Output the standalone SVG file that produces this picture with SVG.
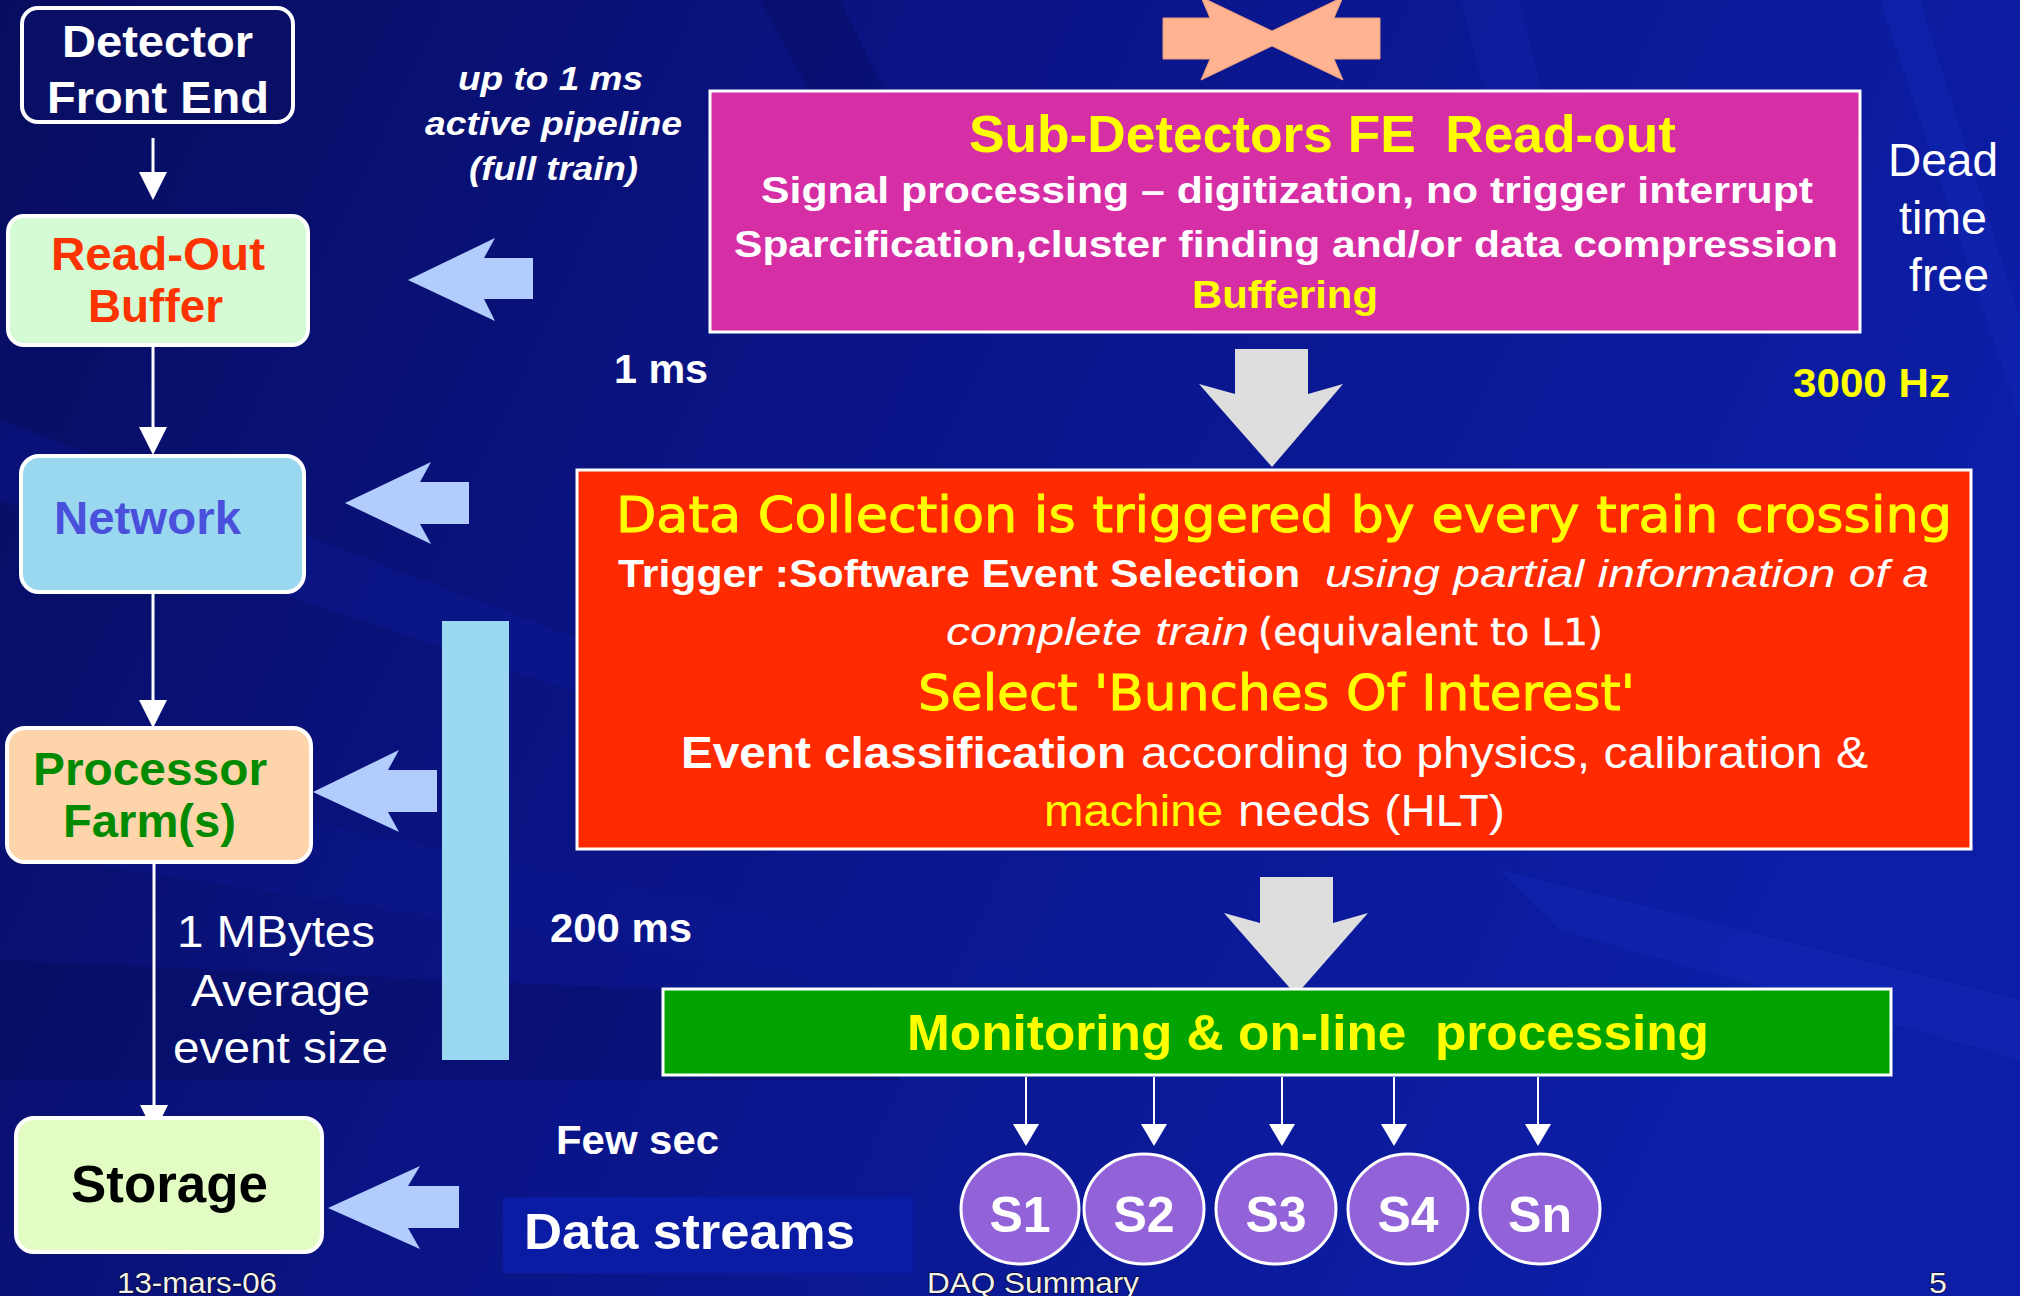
<svg xmlns="http://www.w3.org/2000/svg" width="2020" height="1296" viewBox="0 0 2020 1296">
  <defs>
    <linearGradient id="bg" x1="0" y1="0" x2="1" y2="0.3">
      <stop offset="0" stop-color="#070d5e"/>
      <stop offset="0.45" stop-color="#0a1486"/>
      <stop offset="1" stop-color="#0c1ea6"/>
    </linearGradient>
    <marker id="head" markerUnits="userSpaceOnUse" viewBox="0 0 28 28" markerWidth="28" markerHeight="28" refX="23" refY="14" orient="auto">
      <path d="M0,0 L28,14 L0,28 z" fill="#ffffff"/>
    </marker>
    <marker id="headS" markerUnits="userSpaceOnUse" viewBox="0 0 22 26" markerWidth="22" markerHeight="26" refX="18" refY="13" orient="auto">
      <path d="M0,0 L22,13 L0,26 z" fill="#ffffff"/>
    </marker>
  </defs>
  <style>
    .sans { font-family: "Liberation Sans", Arial, sans-serif; }
    .b { font-weight: bold; }
    .i { font-style: italic; }
    .comic { font-family: "DejaVu Sans", sans-serif; stroke-width: 0.9; }
    .w { fill: #ffffff; }
    .y { fill: #ffff00; }
    .comic.y { stroke: #ffff00; }
    .comic.w { stroke: #ffffff; stroke-width: 0.5; }
    .node { stroke: #ffffff; stroke-width: 4; }
    .panel { stroke: #ffffff; stroke-width: 3; }
    .link { stroke: #ffffff; stroke-width: 3; fill: none; marker-end: url(#head); }
    .linkS { stroke: #ffffff; stroke-width: 2; fill: none; marker-end: url(#headS); }
    .push { fill: #b2cdfd; }
    .flow { fill: #dedede; }
    .foot { font-family: "Liberation Sans", Arial, sans-serif; font-size: 29px; fill: #f2f2f2; stroke: #000000; stroke-width: 1.2; paint-order: stroke; }
  </style>

  <!-- background with diagonal streaks -->
  <rect x="0" y="0" width="2020" height="1296" fill="url(#bg)"/>
  <g opacity="0.3">
    <polygon points="0,420 900,760 900,800 0,500" fill="#0d1ca0"/>
    <polygon points="0,760 1100,980 1100,1020 0,850" fill="#0c1a96"/>
    <polygon points="0,960 900,1000 900,1080 0,1080" fill="#040a50"/>
    <polygon points="760,0 840,0 1000,330 940,330" fill="#040a50"/>
    <polygon points="1460,0 1520,0 1600,330 1550,330" fill="#1428b0"/>
    <polygon points="1880,0 1920,0 2020,320 2020,420" fill="#1830c0"/>
    <polygon points="1500,870 2020,1000 2020,1060 1560,930" fill="#1a30c0"/>
  </g>

  <!-- colliding bunches symbol -->
  <polygon points="1163,18 1210,18 1201,-3 1272,31 1343,-3 1334,18 1380,18 1380,59 1334,59 1343,80 1272,46 1201,80 1210,59 1163,59" fill="#ffb391" stroke="#e89c80" stroke-width="1"/>

  <!-- connectors -->
  <g id="connectors">
    <line class="link" x1="153" y1="138" x2="153" y2="195"/>
    <line class="link" x1="153" y1="345" x2="153" y2="450"/>
    <line class="link" x1="153" y1="592" x2="153" y2="723"/>
    <line class="link" x1="154" y1="862" x2="154" y2="1128"/>
    <line class="linkS" x1="1026" y1="1077" x2="1026" y2="1142"/>
    <line class="linkS" x1="1154" y1="1077" x2="1154" y2="1142"/>
    <line class="linkS" x1="1282" y1="1077" x2="1282" y2="1142"/>
    <line class="linkS" x1="1394" y1="1077" x2="1394" y2="1142"/>
    <line class="linkS" x1="1538" y1="1077" x2="1538" y2="1142"/>
  </g>

  <!-- left chain -->
  <g id="detector-front-end">
    <rect class="node" x="22" y="8" width="271" height="114" rx="16" fill="#0a0f66"/>
    <text class="sans b w" font-size="44" x="62" y="57" textLength="191" lengthAdjust="spacingAndGlyphs">Detector</text>
    <text class="sans b w" font-size="44" x="47" y="113" textLength="222" lengthAdjust="spacingAndGlyphs">Front End</text>
  </g>
  <g id="read-out-buffer">
    <rect class="node" x="8" y="216" width="300" height="129" rx="16" fill="#d5fbd5"/>
    <text class="sans b" fill="#ff3300" font-size="46" x="51" y="270" textLength="214" lengthAdjust="spacingAndGlyphs">Read-Out</text>
    <text class="sans b" fill="#ff3300" font-size="46" x="88" y="322" textLength="135" lengthAdjust="spacingAndGlyphs">Buffer</text>
  </g>
  <g id="network">
    <rect class="node" x="21" y="456" width="283" height="136" rx="18" fill="#9ad8f0"/>
    <text class="sans b" fill="#4a50dc" font-size="47" x="54" y="534" textLength="187" lengthAdjust="spacingAndGlyphs">Network</text>
  </g>
  <g id="processor-farm">
    <rect class="node" x="7" y="728" width="304" height="134" rx="18" fill="#fed5aa"/>
    <text class="sans b" fill="#008a00" font-size="46" x="33" y="785" textLength="234" lengthAdjust="spacingAndGlyphs">Processor</text>
    <text class="sans b" fill="#008a00" font-size="46" x="63" y="837" textLength="173" lengthAdjust="spacingAndGlyphs">Farm(s)</text>
  </g>
  <g id="storage">
    <rect class="node" x="16" y="1118" width="306" height="134" rx="18" fill="#e2fcc4"/>
    <text class="sans b" fill="#000000" font-size="51" x="71" y="1202" textLength="197" lengthAdjust="spacingAndGlyphs">Storage</text>
  </g>

  <!-- wide arrows pointing at the chain -->
  <g id="feeds">
    <polygon class="push" points="408,280 495,238 484,258 533,258 533,299 484,299 495,321"/>
    <polygon class="push" points="345,503 431,462 420,482 469,482 469,524 420,524 431,544"/>
    <polygon class="push" points="313,792 399,750 388,770 437,770 437,812 388,812 399,832"/>
    <polygon class="push" points="328,1208 420,1166 408,1186 459,1186 459,1228 408,1228 420,1249"/>
    <rect x="442" y="621" width="67" height="439" fill="#99d8f0"/>
  </g>

  <!-- timing and size labels -->
  <g id="labels">
    <text class="sans b i w" font-size="34" x="458" y="90" textLength="185" lengthAdjust="spacingAndGlyphs">up to 1 ms</text>
    <text class="sans b i w" font-size="34" x="425" y="135" textLength="257" lengthAdjust="spacingAndGlyphs">active pipeline</text>
    <text class="sans b i w" font-size="34" x="469" y="180" textLength="169" lengthAdjust="spacingAndGlyphs">(full train)</text>
    <text class="sans b w" font-size="40" x="614" y="383" textLength="94" lengthAdjust="spacingAndGlyphs">1 ms</text>
    <text class="sans b w" font-size="40" x="550" y="942" textLength="142" lengthAdjust="spacingAndGlyphs">200 ms</text>
    <text class="sans b w" font-size="40" x="556" y="1154" textLength="163" lengthAdjust="spacingAndGlyphs">Few sec</text>
    <text class="sans w" font-size="44" x="177" y="947" textLength="198" lengthAdjust="spacingAndGlyphs">1 MBytes</text>
    <text class="sans w" font-size="44" x="191" y="1006" textLength="179" lengthAdjust="spacingAndGlyphs">Average</text>
    <text class="sans w" font-size="44" x="173" y="1063" textLength="215" lengthAdjust="spacingAndGlyphs">event size</text>
    <text class="sans w" font-size="46" x="1888" y="176" textLength="110" lengthAdjust="spacingAndGlyphs">Dead</text>
    <text class="sans w" font-size="46" x="1899" y="234" textLength="88" lengthAdjust="spacingAndGlyphs">time</text>
    <text class="sans w" font-size="46" x="1909" y="291" textLength="80" lengthAdjust="spacingAndGlyphs">free</text>
    <text class="sans b y" font-size="40" x="1793" y="397" textLength="157" lengthAdjust="spacingAndGlyphs">3000 Hz</text>
  </g>

  <!-- front-end read-out stage -->
  <g id="sub-detectors-readout">
    <rect class="panel" x="710" y="91" width="1150" height="241" fill="#d62fa6"/>
    <text class="sans b y" font-size="52" x="969" y="152" textLength="707" lengthAdjust="spacingAndGlyphs" xml:space="preserve">Sub-Detectors FE  Read-out</text>
    <text class="sans b w" font-size="37" x="761" y="203" textLength="1052" lengthAdjust="spacingAndGlyphs">Signal processing – digitization, no trigger interrupt</text>
    <text class="sans b w" font-size="37" x="734" y="257" textLength="1104" lengthAdjust="spacingAndGlyphs">Sparcification,cluster finding and/or data compression</text>
    <text class="sans b y" font-size="39" x="1192" y="308" textLength="186" lengthAdjust="spacingAndGlyphs">Buffering</text>
  </g>

  <g id="flow-down">
    <polygon class="flow" points="1235,349 1308,349 1308,394 1343,384 1272,467 1199,384 1235,394"/>
  </g>

  <!-- data collection stage -->
  <g id="data-collection">
    <rect class="panel" x="577" y="470" width="1394" height="379" fill="#ff2a00"/>
    <text class="comic y" font-size="50" x="616" y="532" textLength="1336" lengthAdjust="spacingAndGlyphs">Data Collection is triggered by every train crossing</text>
    <text class="sans b w" font-size="39" x="618" y="587" textLength="682" lengthAdjust="spacingAndGlyphs">Trigger :Software Event Selection</text>
    <text class="sans i w" font-size="39" x="1325" y="587" textLength="604" lengthAdjust="spacingAndGlyphs">using partial information of a</text>
    <text class="sans i w" font-size="39" x="946" y="645" textLength="303" lengthAdjust="spacingAndGlyphs">complete train</text>
    <text class="comic w" font-size="37" x="1258" y="645" textLength="345" lengthAdjust="spacingAndGlyphs">(equivalent to L1)</text>
    <text class="comic y" font-size="50" x="918" y="710" textLength="717" lengthAdjust="spacingAndGlyphs">Select 'Bunches Of Interest'</text>
    <text class="sans b w" font-size="45" x="681" y="768" textLength="445" lengthAdjust="spacingAndGlyphs">Event classification</text>
    <text class="sans w" font-size="45" x="1141" y="768" textLength="727" lengthAdjust="spacingAndGlyphs">according to physics, calibration &amp;</text>
    <text class="sans y" font-size="45" x="1044" y="826" textLength="179" lengthAdjust="spacingAndGlyphs">machine</text>
    <text class="sans w" font-size="45" x="1238" y="826" textLength="267" lengthAdjust="spacingAndGlyphs">needs (HLT)</text>
  </g>

  <g id="flow-down-2">
    <polygon class="flow" fill="#d8d8d8" points="1260,877 1333,877 1333,923 1368,913 1296,995 1224,913 1260,923"/>
  </g>

  <!-- monitoring stage -->
  <g id="monitoring">
    <rect class="panel" x="663" y="989" width="1228" height="86" fill="#00a300"/>
    <text class="sans b y" font-size="50" x="907" y="1050" textLength="802" lengthAdjust="spacingAndGlyphs" xml:space="preserve">Monitoring &amp; on-line  processing</text>
  </g>

  <!-- output streams -->
  <g id="stream-s1">
    <ellipse class="panel" cx="1020" cy="1209" rx="59" ry="55" fill="#9262d8"/>
    <text class="sans b w" font-size="50" x="1020" y="1232" text-anchor="middle">S1</text>
  </g>
  <g id="stream-s2">
    <ellipse class="panel" cx="1144" cy="1209" rx="60" ry="55" fill="#9262d8"/>
    <text class="sans b w" font-size="50" x="1144" y="1232" text-anchor="middle">S2</text>
  </g>
  <g id="stream-s3">
    <ellipse class="panel" cx="1276" cy="1209" rx="60" ry="55" fill="#9262d8"/>
    <text class="sans b w" font-size="50" x="1276" y="1232" text-anchor="middle">S3</text>
  </g>
  <g id="stream-s4">
    <ellipse class="panel" cx="1408" cy="1209" rx="60" ry="55" fill="#9262d8"/>
    <text class="sans b w" font-size="50" x="1408" y="1232" text-anchor="middle">S4</text>
  </g>
  <g id="stream-sn">
    <ellipse class="panel" cx="1540" cy="1209" rx="60" ry="55" fill="#9262d8"/>
    <text class="sans b w" font-size="50" x="1540" y="1232" text-anchor="middle">Sn</text>
  </g>

  <g id="data-streams">
    <rect x="503" y="1197" width="410" height="76" fill="#0b1ca4"/>
    <text class="sans b w" font-size="50" x="524" y="1249" textLength="331" lengthAdjust="spacingAndGlyphs">Data streams</text>
  </g>

  <!-- footer -->
  <g id="footer">
    <text class="foot" x="117" y="1293" textLength="160" lengthAdjust="spacingAndGlyphs">13-mars-06</text>
    <text class="foot" x="927" y="1293" textLength="212" lengthAdjust="spacingAndGlyphs">DAQ Summary</text>
    <text class="foot" x="1929" y="1293" textLength="18" lengthAdjust="spacingAndGlyphs">5</text>
  </g>
</svg>
